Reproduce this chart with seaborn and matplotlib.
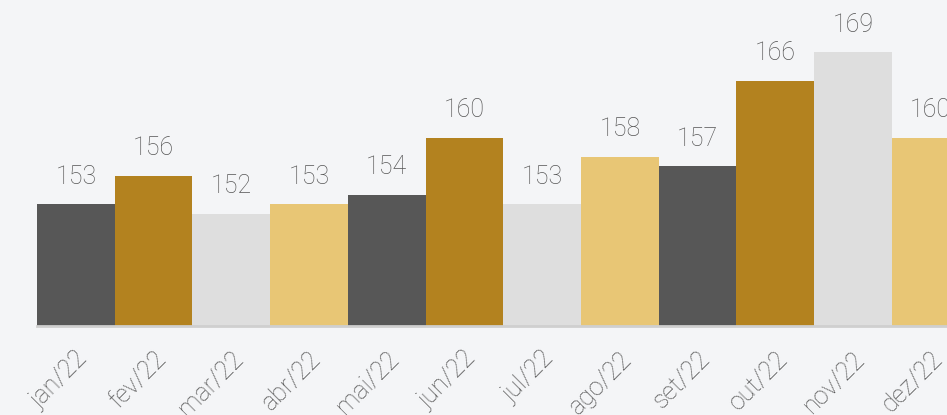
import matplotlib
matplotlib.use("Agg")
import matplotlib.pyplot as plt
import seaborn as sns
import pandas as pd

months = ["jan/22", "fev/22", "mar/22", "abr/22", "mai/22", "jun/22",
          "jul/22", "ago/22", "set/22", "out/22", "nov/22", "dez/22"]
values = [153, 156, 152, 153, 154, 160, 153, 158, 157, 166, 169, 160]
cycle = ["#575757", "#B3821F", "#DEDEDE", "#E8C675"]
colors = [cycle[i % 4] for i in range(len(months))]

bg = "#F4F5F7"
sns.set_theme(style="white")
plt.rcParams["font.family"] = ["Roboto", "DejaVu Sans"]

df = pd.DataFrame({"mes": months, "valor": values})

fig = plt.figure(figsize=(9.47, 4.15), dpi=100, facecolor=bg)
ax = fig.add_axes([37 / 947, 89 / 415, 1 - 37 / 947, 1 - 89 / 415])
ax.set_facecolor(bg)

sns.barplot(data=df, x="mes", y="valor", hue="mes", palette=colors,
            width=1.0, legend=False, ax=ax, saturation=1, linewidth=0)

ax.set_ylim(140.16, 174.5)
ax.set_xlim(-0.5, 11.21)

for i, v in enumerate(values):
    ax.annotate(str(v), (i, v), xytext=(0, 11), textcoords="offset points",
                ha="center", va="bottom", fontsize=18, color="#555555",
                fontweight="light", annotation_clip=False)

for s in ["top", "right", "left"]:
    ax.spines[s].set_visible(False)
ax.spines["bottom"].set_color("#cfcfcf")
ax.spines["bottom"].set_linewidth(2)
ax.set_yticks([])
ax.set_xlabel("")
ax.set_ylabel("")
ax.tick_params(axis="x", length=0, pad=15)
ax.set_xticks(range(len(months)))
ax.set_xticklabels(months, rotation=45, ha="right", rotation_mode="anchor",
                   fontsize=18, color="#555555", fontweight="light")

fig.savefig("out.png", dpi=100, facecolor=bg)
